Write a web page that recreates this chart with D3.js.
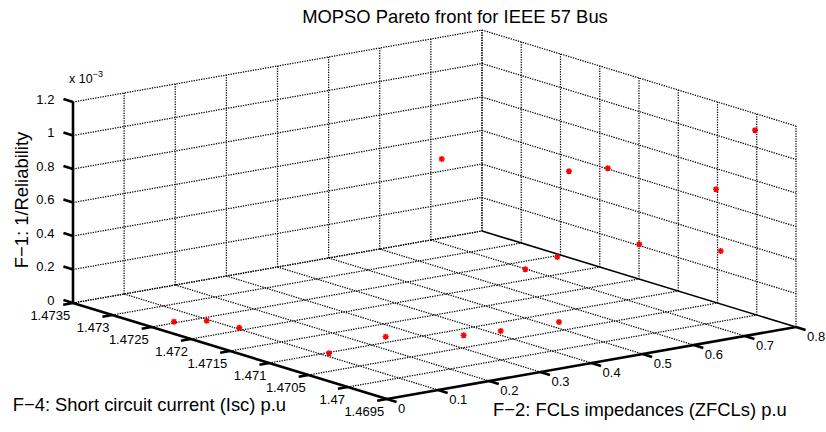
<!DOCTYPE html>
<html>
<head>
<meta charset="utf-8">
<script src="https://cdn.jsdelivr.net/npm/d3@7"></script>
<style>
  body { margin: 0; background: #fff; }
  text { font-family: "Liberation Sans", Arial, Helvetica, sans-serif; fill: #000; }
</style>
</head>
<body>
<svg id="chart" width="826" height="432"></svg>
<script>
// Tick values and labels for the three objectives
const iscTicks = [1.4695, 1.47, 1.4705, 1.471, 1.4715, 1.472, 1.4725, 1.473, 1.4735];
const iscTickLabels = ["1.4695", "1.47", "1.4705", "1.471", "1.4715", "1.472", "1.4725", "1.473", "1.4735"];
const zfclTicks = [0, 0.1, 0.2, 0.3, 0.4, 0.5, 0.6, 0.7, 0.8];
const zfclTickLabels = ["0", "0.1", "0.2", "0.3", "0.4", "0.5", "0.6", "0.7", "0.8"];
const invRelTicks = [0, 0.0002, 0.0004, 0.0006, 0.0008, 0.001, 0.0012];
const invRelTickLabels = ["0", "0.2", "0.4", "0.6", "0.8", "1", "1.2"];

// Pareto front solutions: F-4 (Isc, p.u), F-2 (ZFCLs, p.u), F-1 (1/Reliability)
const isc = [1.472429, 1.47225, 1.47194, 1.470899, 1.470941, 1.470562, 1.47045, 1.47031,
             1.471488, 1.471399, 1.470822, 1.47, 1.471871, 1.471219, 1.470852, 1.470324, 1.469949];
const zfcl = [0.0331, 0.0696, 0.0857, 0.1013, 0.2187, 0.3130, 0.3683, 0.4608,
              0.5758, 0.6247, 0.6964, 0.7295, 0.4711, 0.6199, 0.6394, 0.7701, 0.7888];
const invRel = [0.000024, 0.000036, 0.000030, 0.000018, 0.000048, 0.000060, 0.000072, 0.000096,
                0.00018, 0.00024, 0.00036, 0.00042, 0.00084, 0.00078, 0.00084, 0.00072, 0.001116];

const svg = d3.select("#chart");
svg.append("rect").attr("width", 826).attr("height", 432).attr("fill", "#fff");

// Each axis maps its data range onto [0,1] of the unit box
const sIsc = d3.scaleLinear().domain([1.4735, 1.4695]).range([0, 1]);
const sZ = d3.scaleLinear().domain([0, 0.8]).range([0, 1]);
const sR = d3.scaleLinear().domain([0, 0.0012]).range([0, 1]);

// Orthographic view: screen position of the box origin and of each box edge
const origin = [73, 303];
const eIsc = [314, 96];
const eZ = [409, -72];
const eR = [0, -201];

function proj(a, b, c) {
  const u = sIsc(a), v = sZ(b), w = sR(c);
  return [origin[0] + u * eIsc[0] + v * eZ[0] + w * eR[0],
          origin[1] + u * eIsc[1] + v * eZ[1] + w * eR[1]];
}
function unit(v) { const l = Math.hypot(v[0], v[1]); return [v[0] / l, v[1] / l]; }

const iscMax = 1.4735, iscMin = 1.4695, zMax = 0.8, rMax = 0.0012;

// Dotted grid segments on the floor and the two back walls
const grid = [];
zfclTicks.forEach(t => {
  if (t > 0 && t < zMax) grid.push([proj(iscMax, t, 0), proj(iscMin, t, 0)]);
  if (t > 0) grid.push([proj(iscMax, t, 0), proj(iscMax, t, rMax)]);
});
iscTicks.forEach(s => {
  if (s > iscMin) grid.push([proj(s, 0, 0), proj(s, zMax, 0)]);
  grid.push([proj(s, zMax, 0), proj(s, zMax, rMax)]);
});
invRelTicks.forEach(r => {
  grid.push([proj(iscMax, 0, r), proj(iscMax, zMax, r)]);
  if (r > 0) grid.push([proj(iscMax, zMax, r), proj(iscMin, zMax, r)]);
});

const line = d3.line();
svg.append("g").selectAll("path").data(grid).join("path")
  .attr("d", d => line(d))
  .attr("fill", "none").attr("stroke", "#000").attr("stroke-width", 1.25)
  .attr("stroke-dasharray", "1.3,1.2");

// Solid axis lines
const axes = svg.append("g").attr("fill", "none").attr("stroke", "#000").attr("stroke-linecap", "butt");
axes.append("path").attr("d", line([proj(iscMax, zMax, 0), proj(iscMin, zMax, 0)])).attr("stroke-width", 1.6);
axes.append("path").attr("d", line([proj(iscMax, 0, 0), proj(iscMax, 0, rMax)])).attr("stroke-width", 2.6);
axes.append("path").attr("d", line([proj(iscMax, 0, 0), proj(iscMin, 0, 0)])).attr("stroke-width", 2.6);
axes.append("path").attr("d", line([proj(iscMin, 0, 0), proj(iscMin, zMax, 0)])).attr("stroke-width", 2.6);

const tickLen = 10;
const dIsc = unit(eIsc), dZ = unit(eZ);
const fs = 13;

// F-1 axis ticks and labels
invRelTicks.forEach((r, k) => {
  const p = proj(iscMax, 0, r);
  const q = [p[0] - dIsc[0] * tickLen, p[1] - dIsc[1] * tickLen];
  axes.append("path").attr("d", line([p, q])).attr("stroke-width", 2.6);
  svg.append("text").attr("x", q[0] - 9).attr("y", q[1]).attr("dy", "0.35em")
    .attr("text-anchor", "end").attr("font-size", fs).text(invRelTickLabels[k]);
});

// F-4 axis ticks and labels
iscTicks.forEach((s, k) => {
  const p = proj(s, 0, 0);
  const q = [p[0] - dZ[0] * tickLen, p[1] - dZ[1] * tickLen];
  axes.append("path").attr("d", line([p, q])).attr("stroke-width", 2.6);
  svg.append("text").attr("x", q[0] + 7).attr("y", q[1] + 10.5).attr("dy", "0.35em")
    .attr("text-anchor", "end").attr("font-size", fs).text(iscTickLabels[k]);
});

// F-2 axis ticks and labels
zfclTicks.forEach((t, k) => {
  const p = proj(iscMin, t, 0);
  const q = [p[0] + dIsc[0] * tickLen, p[1] + dIsc[1] * tickLen];
  axes.append("path").attr("d", line([p, q])).attr("stroke-width", 2.6);
  svg.append("text").attr("x", q[0] + 1.5).attr("y", q[1] + 7).attr("dy", "0.35em")
    .attr("text-anchor", "start").attr("font-size", fs).text(zfclTickLabels[k]);
});

// Exponent note for the F-1 axis
const expo = svg.append("text").attr("x", 69).attr("y", 83).attr("font-size", 12.5);
expo.append("tspan").text("x 10");
expo.append("tspan").attr("dy", -6).attr("font-size", 9).text("\u22123");

// Pareto points as red asterisks
const star = "M-3,0L3,0M0,-3L0,3M-2.2,-2.2L2.2,2.2M-2.2,2.2L2.2,-2.2";
svg.append("g").selectAll("path").data(isc.map((v, i) => [v, zfcl[i], invRel[i]])).join("path")
  .attr("transform", d => { const p = proj(d[0], d[1], d[2]); return `translate(${p[0]},${p[1]})`; })
  .attr("d", star).attr("fill", "none").attr("stroke", "#ff0000").attr("stroke-width", 1.5);

// Title and axis titles
svg.append("text").attr("x", 455).attr("y", 22.5).attr("text-anchor", "middle")
  .attr("font-size", 18.4).text("MOPSO Pareto front for IEEE 57 Bus");
svg.append("text").attr("transform", "translate(27.5,200) rotate(-90)").attr("text-anchor", "middle")
  .attr("font-size", 18.4).text("F\u22121: 1/Reliability");
svg.append("text").attr("x", 12.7).attr("y", 410.5).attr("font-size", 18.4)
  .text("F\u22124: Short circuit current (Isc) p.u");
svg.append("text").attr("x", 493).attr("y", 416).attr("font-size", 18.4)
  .text("F\u22122: FCLs impedances (ZFCLs) p.u");
</script>
</body>
</html>
